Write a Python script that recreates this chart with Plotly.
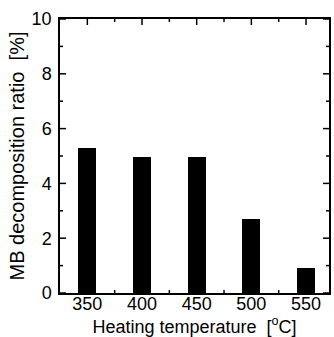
import plotly.graph_objects as go

temperatures = [350, 400, 450, 500, 550]
ratios = [5.3, 4.95, 4.95, 2.7, 0.93]
x_ticks = [350, 400, 450, 500, 550]
x_minor_ticks = [375, 425, 475, 525]
y_ticks = [0, 2, 4, 6, 8, 10]
y_minor_ticks = [1, 3, 5, 7, 9]
x_range = [325, 571]
y_range = [0, 10]

fam = "Liberation Sans, Arial, sans-serif"
font = dict(family=fam, size=18, color="black")

fig = go.Figure()
fig.add_trace(go.Bar(x=temperatures, y=ratios, width=16.5,
                     marker=dict(color="black", line=dict(width=0))))

# inward-pointing tick marks on all four sides of the frame (pixel-sized shapes)
shapes = []
tick_line = dict(color="black", width=1.5)
for vals, length in ((x_ticks, 6), (x_minor_ticks, 3)):
    for t in vals:
        for edge, sign in ((y_range[0], 1), (y_range[1], -1)):
            shapes.append(dict(type="line", xref="x", yref="y", x0=t, x1=t,
                               ysizemode="pixel", yanchor=edge, y0=0, y1=sign * length,
                               line=tick_line, layer="above"))
for vals, length in ((y_ticks, 6), (y_minor_ticks, 3)):
    for t in vals:
        for edge, sign in ((x_range[0], 1), (x_range[1], -1)):
            shapes.append(dict(type="line", xref="x", yref="y", y0=t, y1=t,
                               xsizemode="pixel", xanchor=edge, x0=0, x1=sign * length,
                               line=tick_line, layer="above"))

fig.update_layout(
    template="none",
    width=334, height=337,
    margin=dict(l=60, r=5, t=19, b=44, autoexpand=False),
    plot_bgcolor="white", paper_bgcolor="white",
    font=font, showlegend=False, shapes=shapes,
    xaxis=dict(range=x_range, tickvals=x_ticks, ticktext=[str(t) for t in x_ticks],
               ticks="", showline=True, linecolor="black", linewidth=1.5, mirror=True,
               showgrid=False, zeroline=False, automargin=False,
               ticklabelstandoff=-6,
               title=dict(text="Heating temperature&nbsp; [<sup>o</sup>C]", standoff=0, font=font),
               tickfont=font),
    yaxis=dict(range=y_range, tickvals=y_ticks,
               ticks="", showline=True, linecolor="black", linewidth=1.5, mirror=True,
               showgrid=False, zeroline=False, automargin=False,
               ticklabelstandoff=3,
               title=dict(text="MB decomposition ratio&nbsp; [%]", standoff=2,
                          font=dict(family=fam, size=20, color="black")),
               tickfont=font),
    bargap=0,
)
fig.write_html("out.html", config={"displayModeBar": False},
               post_script="document.body.style.margin='0';document.body.style.overflow='hidden';")
